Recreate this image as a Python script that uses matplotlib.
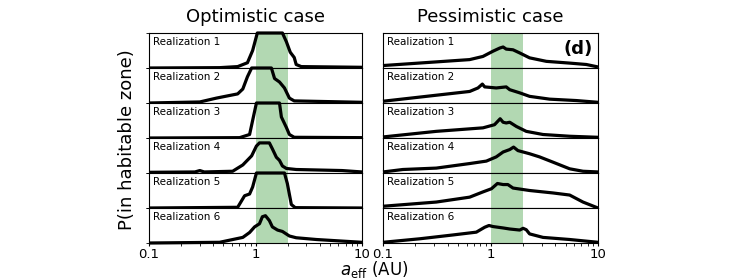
import matplotlib
matplotlib.use("Agg")
import matplotlib.pyplot as plt

# habitable zone band (AU)
hz_lo, hz_hi = 1.0, 2.0

# optimistic case, one (x, y) pair per realization, y in units of the row height
opt_x = [
    [0.1, 0.46, 0.68, 0.84, 0.94, 1.04, 1.79, 1.95, 2.12, 2.31, 2.41, 2.69, 10],
    [0.1, 0.30, 0.43, 0.54, 0.68, 0.76, 0.84, 0.92, 1.41, 1.51, 1.68, 1.87, 2.08, 2.31, 10],
    [0.1, 0.71, 0.88, 1.02, 1.68, 1.75, 1.95, 2.08, 2.31, 10],
    [0.1, 0.27, 0.30, 0.33, 0.61, 0.76, 0.92, 1.02, 1.09, 1.35, 1.44, 1.57, 1.68, 1.79, 1.95, 2.41, 6.5, 10],
    [0.1, 0.68, 0.79, 0.88, 0.94, 1.02, 1.87, 1.99, 2.17, 2.36, 10],
    [0.1, 0.46, 0.76, 0.88, 0.98, 1.09, 1.16, 1.24, 1.35, 1.44, 1.61, 1.79, 2.08, 2.41, 3.72, 10],
]
opt_y = [
    [0.0, 0.01, 0.04, 0.15, 0.5, 1.0, 1.0, 0.75, 0.45, 0.3, 0.1, 0.04, 0.02],
    [0.0, 0.03, 0.14, 0.2, 0.26, 0.4, 0.75, 1.0, 1.0, 0.7, 0.6, 0.43, 0.14, 0.06, 0.02],
    [0.0, 0.01, 0.1, 1.0, 1.0, 0.6, 0.3, 0.1, 0.02, 0.01],
    [0.02, 0.03, 0.07, 0.03, 0.05, 0.23, 0.49, 0.77, 0.86, 0.86, 0.69, 0.45, 0.36, 0.2, 0.13, 0.1, 0.07, 0.03],
    [0.0, 0.02, 0.35, 0.4, 0.6, 1.0, 1.0, 0.7, 0.1, 0.01, 0.0],
    [0.0, 0.02, 0.16, 0.3, 0.46, 0.55, 0.75, 0.78, 0.64, 0.46, 0.37, 0.33, 0.2, 0.15, 0.1, 0.02],
]

# pessimistic case
pes_x = [
    [0.1, 0.64, 0.85, 1.055, 1.22, 1.31, 1.40, 1.62, 1.87, 2.31, 3.31, 5.45, 7.79, 10],
    [0.1, 0.64, 0.765, 0.84, 0.883, 1.13, 1.40, 1.51, 1.87, 2.31, 3.55, 6.28, 10],
    [0.1, 0.313, 0.851, 1.09, 1.17, 1.23, 1.31, 1.40, 1.51, 1.74, 2.15, 3.08, 5.45, 10],
    [0.1, 0.153, 0.313, 0.64, 0.915, 1.13, 1.31, 1.51, 1.64, 1.80, 2.31, 2.86, 3.81, 5.45, 7.25, 10],
    [0.1, 0.313, 0.64, 0.851, 1.02, 1.16, 1.31, 1.45, 1.62, 2.31, 3.81, 5.45, 7.25, 10],
    [0.1, 0.219, 0.448, 0.738, 0.883, 0.968, 1.055, 1.31, 1.51, 1.87, 2.01, 2.15, 2.31, 3.08, 5.45, 10],
]
pes_y = [
    [0.07, 0.24, 0.33, 0.48, 0.57, 0.6, 0.54, 0.52, 0.43, 0.29, 0.19, 0.14, 0.1, 0.03],
    [0.05, 0.33, 0.43, 0.54, 0.46, 0.43, 0.46, 0.38, 0.29, 0.19, 0.11, 0.07, 0.02],
    [0.03, 0.19, 0.29, 0.38, 0.48, 0.55, 0.45, 0.43, 0.45, 0.33, 0.19, 0.1, 0.05, 0.02],
    [0.03, 0.1, 0.14, 0.27, 0.34, 0.46, 0.6, 0.67, 0.74, 0.64, 0.55, 0.46, 0.31, 0.12, 0.05, 0.03],
    [0.05, 0.17, 0.31, 0.46, 0.55, 0.7, 0.67, 0.67, 0.57, 0.5, 0.43, 0.37, 0.17, 0.0],
    [0.02, 0.12, 0.23, 0.31, 0.45, 0.5, 0.47, 0.43, 0.4, 0.37, 0.42, 0.38, 0.26, 0.16, 0.1, 0.02],
]

labels = ["Realization %d" % (i + 1) for i in range(6)]
tick_vals = [0.1, 1, 10]
tick_labels = ["0.1", "1", "10"]

W, H = 747, 280
fig = plt.figure(figsize=(W / 100, H / 100), dpi=100)

top_px, row_px = 33, 35
panels = [(149, 213, opt_x, opt_y, True), (383, 215, pes_x, pes_y, False)]

for left_px, width_px, xs, ys, is_left in panels:
    for i in range(6):
        bottom = 1 - (top_px + row_px * (i + 1)) / H
        ax = fig.add_axes([left_px / W, bottom, width_px / W, row_px / H])
        ax.axvspan(hz_lo, hz_hi, color="green", alpha=0.3, lw=0)
        ax.plot(xs[i], ys[i], color="k", lw=2.3, clip_on=False, solid_capstyle="butt")
        ax.set_xscale("log")
        ax.set_xlim(0.1, 10)
        ax.set_ylim(0, 1)
        ax.text(0.02, 0.88, labels[i], transform=ax.transAxes, fontsize=7.5,
                va="top", ha="left")
        if is_left:
            ax.set_yticks([0, 1])
            ax.set_yticklabels([])
            ax.tick_params(axis="y", length=2, width=0.6)
        else:
            ax.set_yticks([])
        if i < 5:
            ax.tick_params(axis="x", which="both", bottom=False, labelbottom=False)
        else:
            ax.set_xticks(tick_vals)
            ax.set_xticklabels(tick_labels, fontsize=9.5)
            ax.tick_params(axis="x", which="major", length=2.5, pad=1)
            ax.tick_params(axis="x", which="minor", length=1.8)
        if not is_left and i == 0:
            ax.text(0.975, 0.8, "(d)", transform=ax.transAxes, fontsize=13,
                    fontweight="bold", ha="right", va="top")

fig.text(256 / W, 1 - 17 / H, "Optimistic case", fontsize=13, ha="center", va="center")
fig.text(490 / W, 1 - 17 / H, "Pessimistic case", fontsize=13, ha="center", va="center")
fig.text(127 / W, 1 - 140 / H, "P(in habitable zone)", fontsize=13, rotation=90,
         ha="center", va="center")
fig.text(374 / W, 1 - 279.5 / H, r"$a_{\rm eff}$ (AU)", fontsize=12, ha="center", va="bottom")

fig.savefig("out.png", dpi=100)
